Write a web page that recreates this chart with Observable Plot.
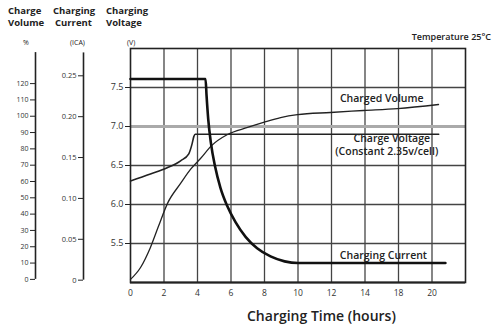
<!DOCTYPE html>
<html><head><meta charset="utf-8">
<script src="https://cdn.jsdelivr.net/npm/d3@7"></script>
<script src="https://cdn.jsdelivr.net/npm/@observablehq/plot@0.6"></script>
<style>
body{margin:0;background:#fff;}
#wrap{position:relative;width:493px;height:330px;font-family:"Open Sans",sans-serif;color:#222;overflow:hidden}
.t{position:absolute;white-space:nowrap;line-height:1}
.h{font-weight:700;font-size:9.5px}
</style></head><body>
<div id="wrap">
  <div class="t h" style="left:8px;top:6px">Charge</div>
  <div class="t h" style="left:53px;top:6px">Charging</div>
  <div class="t h" style="left:106px;top:6px">Charging</div>
  <div class="t h" style="left:8px;top:18px">Volume</div>
  <div class="t h" style="left:55px;top:18px">Current</div>
  <div class="t h" style="left:106px;top:18px">Voltage</div>
  <div class="t" style="left:23px;top:39px;font-size:7px">%</div>
  <div class="t" style="left:70px;top:39px;font-size:7px">(ICA)</div>
  <div class="t" style="left:127px;top:39px;font-size:7px">(V)</div>
  <div class="t" style="right:2px;top:32px;font-size:9px;font-weight:600">Temperature 25°C</div>
  <div class="t" style="left:247px;top:309px;font-size:14px;font-weight:600">Charging Time (hours)</div>
</div>
<script>
// X axis (charging time, hours)
const xTicks = [0, 2, 4, 6, 8, 10, 12, 14, 16, 18];
const xTickLabels = ["0", "2", "4", "6", "8", "10", "12", "14", "18", "20"];
const xGrid = [2, 4, 6, 8, 10, 12, 14, 16, 18];
// Voltage axis
const vTicks = [5.5, 6.0, 6.5, 7.0, 7.5];
const vGrid = [5.5, 6.0, 6.5, 7.5];
const vHeavy = [7.0];
// Charge volume axis (%)
const pctTicks = [0, 10, 20, 30, 40, 50, 60, 70, 80, 90, 100, 110, 120];
// Charging current axis (CA)
const curTicks = [0, 0.05, 0.10, 0.15, 0.20, 0.25];
const curTickLabels = ["0", "0.05", "0.10", "0.15", "0.20", "0.25"];

// Charging voltage (V)
const voltHours = [0, 1.19, 2.19, 2.99, 3.48, 3.68, 3.78, 3.86, 18.4];
const voltValues = [6.30, 6.39, 6.47, 6.56, 6.65, 6.78, 6.87, 6.90, 6.90];
// Charged volume (%)
const volHours = [0, 0.6, 1.19, 1.67, 2.21, 2.99, 3.58, 4.18, 4.84, 5.79, 6.99, 7.94, 8.96, 9.97, 11.94, 13.91, 15.94, 18.39];
const volValues = [0, 7.3, 19.6, 32.5, 46.6, 58.8, 67.4, 74.1, 82.0, 88.8, 93.1, 96.2, 99.2, 101.0, 102.3, 103.5, 104.7, 107.2];
// Charging current (CA)
const curHours = [0, 4.48, 4.54, 4.64, 4.80, 5.05, 5.37, 5.77, 6.27, 6.87, 7.56, 8.36, 9.2, 10.0, 12, 14, 16, 18.8];
const curValues = [0.246, 0.246, 0.226, 0.197, 0.168, 0.139, 0.113, 0.091, 0.071, 0.053, 0.039, 0.029, 0.023, 0.021, 0.021, 0.021, 0.021, 0.021];

// Curve labels
const labels = [
  {x: 15.0, y: 7.36, text: "Charged Volume"},
  {x: 15.6, y: 6.85, text: "Charge Voltage"},
  {x: 15.3, y: 6.68, text: "(Constant 2.35v/cell)"},
  {x: 15.1, y: 5.34, text: "Charging Current"}
];

// secondary axes expressed on the voltage scale
const pctToV = d3.scaleLinear().domain([0, 120]).range([5.04, 7.55]);
const curToV = d3.scaleLinear().domain([0, 0.25]).range([5.03, 7.65]);
const pctAxisMax = 139, curAxisMax = 0.278;

const pctLabel = new Map(pctTicks.map(p => [pctToV(p), String(p)]));
const curLabel = new Map(curTicks.map((c, i) => [curToV(c), curTickLabels[i]]));
const xLabel = new Map(xTicks.map((t, i) => [t, xTickLabels[i]]));

const volt = voltHours.map((h, i) => ({h, v: voltValues[i]}));
const vol = volHours.map((h, i) => ({h, v: pctToV(volValues[i])}));
const cur = curHours.map((h, i) => ({h, v: curToV(curValues[i])}));

const ink = "#222";
const chart = Plot.plot({
  width: 493, height: 330,
  marginTop: 48, marginBottom: 48, marginLeft: 130, marginRight: 28,
  style: {fontFamily: "Open Sans, sans-serif", color: ink, background: "transparent"},
  x: {domain: [0, 20]},
  y: {domain: [5, 8]},
  marks: [
    Plot.ruleX(xGrid, {stroke: "#444", strokeWidth: 1.3}),
    Plot.ruleY(vGrid, {stroke: "#444", strokeWidth: 1.3}),
    Plot.ruleY(vHeavy, {stroke: "#aaa", strokeWidth: 3}),
    Plot.frame({stroke: ink, strokeWidth: 1.6}),
    Plot.ruleY([5], {stroke: ink, strokeWidth: 2.2}),
    // voltage axis
    Plot.axisY(vTicks, {tickFormat: d3.format(".1f"), tickSize: 5, tickPadding: 2, fontSize: 9, label: null, stroke: ink, fill: "#333"}),
    // current axis
    Plot.ruleX([0], {y1: curToV(0), y2: curToV(curAxisMax), dx: -47, stroke: ink, strokeWidth: 1.6}),
    Plot.axisY(curTicks.map(curToV), {tickFormat: d => curLabel.get(d), dx: -47, tickSize: 5, tickPadding: 2, fontSize: 7.5, label: null, stroke: ink, fill: "#333"}),
    // volume axis
    Plot.ruleX([0], {y1: pctToV(0), y2: pctToV(pctAxisMax), dx: -95, stroke: ink, strokeWidth: 1.6}),
    Plot.axisY(pctTicks.map(pctToV), {tickFormat: d => pctLabel.get(d), dx: -95, tickSize: 5, tickPadding: 2, fontSize: 7, label: null, stroke: ink, fill: "#333"}),
    // x axis
    Plot.axisX(xTicks, {tickFormat: d => xLabel.get(d), tickSize: 0, tickPadding: 7, fontSize: 8.5, label: null, fill: "#333"}),
    // curves
    Plot.line(vol, {x: "h", y: "v", curve: "monotone-x", stroke: ink, strokeWidth: 1.3}),
    Plot.line(volt, {x: "h", y: "v", curve: "monotone-x", stroke: ink, strokeWidth: 1.6}),
    Plot.line(cur, {x: "h", y: "v", curve: "monotone-x", stroke: "#111", strokeWidth: 2.6}),
    Plot.text(labels, {x: "x", y: "y", text: "text", fontSize: 10.5, fontWeight: 600, fill: ink})
  ]
});
chart.style.position = "absolute";
chart.style.left = "0";
chart.style.top = "0";
document.getElementById("wrap").prepend(chart);
</script>
</body></html>
